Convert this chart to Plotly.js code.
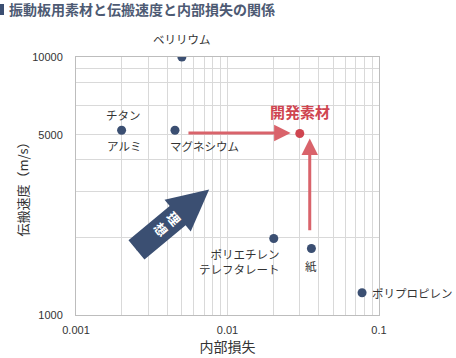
<!DOCTYPE html>
<html><head><meta charset="utf-8">
<script src="https://cdn.plot.ly/plotly-3.0.1.min.js"></script>
<style>html,body{margin:0;padding:0;background:#fff}#chart{width:456px;height:358px}</style>
</head><body><div id="chart"></div>
<script>
// ---- data ----
const materials    = ['ベリリウム', 'チタン / アルミ', 'マグネシウム', 'ポリエチレンテレフタレート', '紙', 'ポリプロピレン'];
const internalLoss = [0.005, 0.002, 0.0045, 0.0202, 0.0358, 0.0773];
const soundSpeed   = [10000, 5200, 5200, 1980, 1810, 1220];

const devName  = '開発素材';
const devLoss  = [0.030];
const devSpeed = [5050];

// point labels: text and the index of the point they belong to
const labelTexts = ['ベリリウム', 'チタン', 'アルミ', 'マグネシウム', 'ポリエチレン<br>テレフタレート', '紙', 'ポリプロピレン'];
const labelPoint = [0, 1, 1, 2, 3, 4, 5];

// red "improvement" arrows (tail -> tip)
const hArrowLoss  = [0.0054, 0.0261];
const hArrowSpeed = [5080, 5080];
const vArrowLoss  = [0.0349, 0.0349];
const vArrowSpeed = [2100, 4830];

// big "ideal" arrow (tail -> tip)
const idealText  = '理<br>想';
const idealLoss  = [0.00245, 0.00757];
const idealSpeed = [1770, 3067];

const xTickVals = [0.001,0.002,0.003,0.004,0.005,0.006,0.007,0.008,0.009,
                   0.01,0.02,0.03,0.04,0.05,0.06,0.07,0.08,0.09,0.1];
const xTickText = xTickVals.map(v => (v === 0.001 ? '0.001' : v === 0.01 ? '0.01' : v === 0.1 ? '0.1' : ''));
const yTickVals = [1000, 2000, 3000, 4000, 5000, 6500, 8000, 9000, 10000];
const yTickText = yTickVals.map(v => ([1000, 5000, 10000].includes(v) ? String(v) : ''));

const chartTitle = '振動板用素材と伝搬速度と内部損失の関係';
const xTitle = '内部損失';
const yTitle = '伝搬速度（m/s）';

// ---- styles ----
const NAVY = '#3b4f72';
const RED_DOT = '#cf4550';
const RED_ARROW = '#d9636b';
const TXT = '#333333';
const JP = '"Noto Sans CJK JP", "Noto Sans", sans-serif';
const NUM = '"Liberation Sans", Arial, sans-serif';

const labelStyle = [
  {xanchor: 'center', xshift: 0,  yshift: 18},
  {xanchor: 'center', xshift: 2,  yshift: 15},
  {xanchor: 'center', xshift: 2,  yshift: -15.5},
  {xanchor: 'left',   xshift: -7, yshift: -15.5},
  {xanchor: 'right',  xshift: 8,  yshift: -23},
  {xanchor: 'center', xshift: 0,  yshift: -17},
  {xanchor: 'left',   xshift: 8,  yshift: 0}
];

const L = Math.log10;

const annotations = [];
labelTexts.forEach((t, i) => {
  const p = labelPoint[i];
  annotations.push(Object.assign({
    x: L(internalLoss[p]), y: L(soundSpeed[p]), xref: 'x', yref: 'y',
    text: t, showarrow: false, yanchor: 'middle', align: labelStyle[i].xanchor === 'right' ? 'right' : 'center',
    font: {family: JP, size: 11.5, color: TXT}
  }, labelStyle[i]));
});

// developed material label
annotations.push({
  x: L(devLoss[0]), y: L(devSpeed[0]), xref: 'x', yref: 'y', text: '<b>' + devName + '</b>',
  showarrow: false, yanchor: 'middle', yshift: 22,
  font: {family: JP, size: 15, color: RED_DOT}
});

// red arrows
[[hArrowLoss, hArrowSpeed], [vArrowLoss, vArrowSpeed]].forEach(([xs, ys]) => {
  annotations.push({
    x: L(xs[1]), y: L(ys[1]), ax: L(xs[0]), ay: L(ys[0]),
    xref: 'x', yref: 'y', axref: 'x', ayref: 'y', text: '',
    showarrow: true, arrowhead: 2, arrowwidth: 3, arrowsize: 1.1, arrowcolor: RED_ARROW
  });
});

// big ideal arrow: shaft then head
{
  const x0 = L(idealLoss[0]), y0 = L(idealSpeed[0]), x1 = L(idealLoss[1]), y1 = L(idealSpeed[1]);
  const f = 0.62; // shaft ends inside head
  annotations.push({
    x: x0 + (x1 - x0) * f, y: y0 + (y1 - y0) * f, ax: x0, ay: y0,
    xref: 'x', yref: 'y', axref: 'x', ayref: 'y', text: '',
    showarrow: true, arrowhead: 0, arrowwidth: 25, arrowcolor: NAVY
  });
  annotations.push({
    x: x1, y: y1, ax: x0, ay: y0,
    xref: 'x', yref: 'y', axref: 'x', ayref: 'y', text: '',
    showarrow: true, arrowhead: 2, arrowwidth: 1, arrowsize: 8.2, arrowcolor: NAVY
  });
  const g = 0.44;
  annotations.push({
    x: x0 + (x1 - x0) * g, y: y0 + (y1 - y0) * g, xref: 'x', yref: 'y',
    text: '<b>' + idealText + '</b>', showarrow: false, textangle: 50,
    font: {family: JP, size: 13, color: '#ffffff'}
  });
}

const traces = [
  {
    type: 'scatter', mode: 'markers', name: '既存素材',
    x: internalLoss, y: soundSpeed, text: materials,
    marker: {color: NAVY, size: 9}, hoverinfo: 'text+x+y'
  },
  {
    type: 'scatter', mode: 'markers', name: devName,
    x: devLoss, y: devSpeed, text: [devName],
    marker: {color: RED_DOT, size: 9}, hoverinfo: 'text+x+y'
  }
];

const axisCommon = {
  type: 'log', showline: true, mirror: true, linecolor: '#bdbdbd', linewidth: 1,
  gridcolor: '#d9d9d9', gridwidth: 1, zeroline: false, ticks: '',
  tickfont: {family: NUM, size: 11, color: TXT}, tickmode: 'array', fixedrange: true
};

const layout = {
  width: 456, height: 358,
  margin: {l: 76, r: 77, t: 57, b: 43},
  paper_bgcolor: '#ffffff', plot_bgcolor: '#ffffff',
  showlegend: false,
  title: {
    text: '<b>' + chartTitle + '</b>', x: 9 / 456, xref: 'container', xanchor: 'left',
    y: 1 - 10.5 / 358, yref: 'container', yanchor: 'middle',
    font: {family: JP, size: 14, color: '#4d5a73'}
  },
  xaxis: Object.assign({}, axisCommon, {
    range: [-3, -1], tickvals: xTickVals, ticktext: xTickText, ticklabelstandoff: 5,
    title: {text: xTitle, font: {family: JP, size: 14, color: TXT}, standoff: 6}
  }),
  yaxis: Object.assign({}, axisCommon, {
    range: [3, 4], tickvals: yTickVals, ticktext: yTickText, ticklabelstandoff: 10,
    title: {text: yTitle, font: {family: JP, size: 13, color: TXT}, standoff: 0}
  }),
  shapes: [{
    type: 'rect', xref: 'paper', yref: 'paper', layer: 'above',
    x0: (0 - 76) / 303, x1: (4 - 76) / 303, y0: (315 - 15) / 258, y1: (315 - 4) / 258,
    fillcolor: NAVY, line: {width: 0}
  }],
  annotations: annotations
};

Plotly.newPlot('chart', traces, layout, {displayModeBar: false, staticPlot: true});
</script>
</body></html>
